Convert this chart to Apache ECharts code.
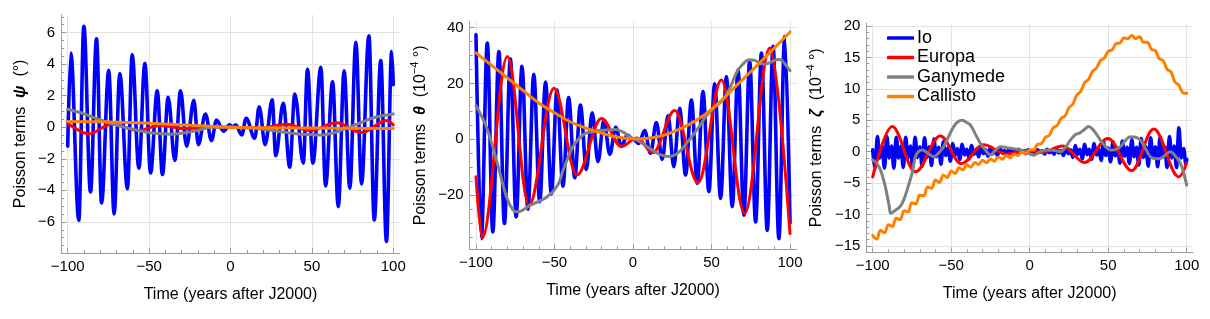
<!DOCTYPE html>
<html><head><meta charset="utf-8">
<script src="https://cdn.jsdelivr.net/npm/echarts@6/dist/echarts.min.js"></script>
<style>html,body{margin:0;padding:0;background:#fff}#c{width:1210px;height:319px}</style>
</head><body><div id="c"></div>
<script>
// ---------------- data ----------------
const seriesNames = ['Io', 'Europa', 'Ganymede', 'Callisto'];
const xTitle = 'Time (years after J2000)';
const xMajor = [-100, -50, 0, 50, 100];
const xMinor = [-90, -80, -70, -60, -40, -30, -20, -10, 10, 20, 30, 40, 60, 70, 80, 90];
const xGrid = [-50, 0, 50];

const psiMajor = [-6, -4, -2, 0, 2, 4, 6];
const psiMinor = [-7.5, -7, -6.5, -5.5, -5, -4.5, -3.5, -3, -2.5, -1.5, -1, -0.5, 0.5, 1, 1.5, 2.5, 3, 3.5, 4.5, 5, 5.5, 6.5, 7];
const thetaMajor = [-20, 0, 20, 40];
const thetaMinor = [-35, -30, -25, -15, -10, -5, 5, 10, 15, 25, 30, 35];
const zetaMajor = [-15, -10, -5, 0, 5, 10, 15, 20];
const zetaMinor = [-16, -14, -13, -12, -11, -9, -8, -7, -6, -4, -3, -2, -1, 1, 2, 3, 4, 6, 7, 8, 9, 11, 12, 13, 14, 16, 17, 18, 19];

// Panel 1: psi (degrees)
const psiIo = [[-100,-1.2],[-98.1,4.7],[-93.2,-5.9],[-90.1,6.4],[-86.0,-4.1],[-82.3,5.6],[-79.2,-4.8],[-74.8,3.6],[-71.5,-5.5],[-68.0,3.4],[-63.3,-3.9],[-60.4,4.6],[-56.3,-2.6],[-52.6,4.05],[-49.1,-2.9],[-45.0,2.3],[-41.8,-3.0],[-38.3,1.9],[-34.2,-2.1],[-30.7,2.3],[-27.0,-1.2],[-22.5,1.7],[-19.8,-1.1],[-15.4,0.84],[-11.7,-0.85],[-8.6,0.46],[-4.3,-0.25],[-0.6,0.15],[1.4,0.02],[3.2,0.15],[6.9,-0.49],[9.6,0.57],[14.9,-0.7],[17.6,1.3],[21.3,-1.1],[25.6,1.73],[27.8,-1.8],[32.4,1.52],[36.4,-2.53],[39.5,2.1],[44.7,-2.28],[47.3,3.67],[50.6,-2.28],[55.5,3.8],[58.4,-3.72],[62.7,2.89],[66.2,-5.03],[69.8,3.58],[73.3,-3.86],[77.0,5.38],[80.5,-3.59],[85.0,5.8],[88.3,-5.87],[92.3,4.22],[95.8,-7.24],[99.0,4.79],[100,2.7]];
const psiEuropa = [[-100,0.25],[-87,-0.42],[-73,0.21],[-57,-0.21],[-43,0.13],[-28,-0.1],[-14,0.04],[0,0],[18,-0.05],[34.4,0.19],[48.7,-0.21],[65.1,0.29],[80.5,-0.34],[95.8,0.42],[100,0.15]];
const psiGanymede = [[-100,1.14],[-90,0.85],[-83,0.57],[-75,0.3],[-63,-0.06],[-52,-0.3],[-42,-0.42],[-37,-0.44],[-30,-0.38],[-20,-0.2],[-12,0],[0,0.02],[8,-0.02],[15,-0.06],[25,-0.2],[35,-0.34],[45,-0.45],[56,-0.49],[65,-0.3],[76,0.12],[88,0.6],[100,0.84]];
const psiCallisto = [[-100,0.36],[-75,0.33],[-50,0.25],[-25,0.13],[0,0.0],[25,-0.04],[50,-0.05],[75,-0.07],[100,-0.08]];

// Panel 2: theta (1e-4 degrees)
const thetaIo = [[-100,37.5],[-96.6,-35.6],[-92.8,34.5],[-89.3,-33.2],[-85.4,31.5],[-81.9,-30.2],[-78.1,28.8],[-74.4,-27.8],[-70.7,26.2],[-66.9,-25.1],[-63.2,23.3],[-59.4,-22.4],[-55.7,20.5],[-52,-19.6],[-48.4,17.7],[-44.6,-16.8],[-41,15.0],[-37.1,-13.8],[-33.5,12.3],[-29.7,-10.8],[-26,9.5],[-22.3,-8.0],[-18.5,6.9],[-14.8,-5.4],[-11,4.3],[-7.4,-2.6],[-3.7,1.5],[0,0],[3.7,-1.5],[7.4,3.1],[11.1,-5.0],[14.9,6.0],[18.6,-7.2],[22.3,8.4],[26,-9.8],[29.7,11.1],[33.5,-12.8],[37.2,14.1],[40.9,-15.8],[44.6,17.1],[48.3,-18.8],[52,19.9],[55.8,-21.2],[59.5,22.5],[63.2,-24.2],[66.9,24.9],[70.6,-27.2],[74.3,27.9],[78.1,-29.6],[81.8,30.9],[85.5,-32.6],[89.2,33.3],[92.9,-35.6],[96.6,36.8],[100,-30]];
const thetaEuropa = [[-100,-13.4],[-96,-35.4],[-80,29.7],[-66.2,-23.6],[-50.3,18.3],[-35.7,-12.8],[-20.1,7.5],[-7.4,-2.6],[2.5,0.5],[12.7,-4.8],[26.6,10.3],[41.4,-15.6],[56.3,21.3],[71.1,-26.6],[87.1,32.7],[100,-33.8]];
const thetaGanymede = [[-100,12],[-93.4,4.5],[-87,-7.4],[-80.6,-20.6],[-76.4,-25.4],[-73.5,-26],[-65,-23.5],[-55,-20.8],[-48,-16.5],[-44.5,-11],[-41,-6],[-38,-2.4],[-34,0.5],[-30,2.2],[-24,3],[-17,3.3],[-11,3.5],[-6,2.5],[-2,0.8],[4.3,-0.9],[12.7,-4],[17,-5.4],[22,-6.2],[26,-5.8],[30,-4.2],[34,-1.5],[38.2,1.5],[42,4.5],[46.8,8.5],[52,11.5],[57.3,14.1],[60,16.5],[63,20],[66,24],[70,27],[74,28.5],[78,28.2],[82,27],[86,27.2],[89,28],[92.4,28.6],[95,28.2],[97.5,26.5],[100,24.6]];
const thetaCallisto = [[-100,31],[-90,26.5],[-80,22],[-70,17.5],[-60,13],[-50,9.5],[-40,6.3],[-30,4],[-20,2.2],[-10,0.8],[0,0.2],[10,0.4],[20,1.5],[30,3.7],[40,6.7],[50,10.7],[60,16],[70,21.5],[80,27],[90,32.7],[100,38.5]];

// Panel 3: zeta (1e-4 degrees)
const zetaIo = [[-100,0.3],[-98.5,-2.6],[-97,2.4],[-95.5,-1.0],[-94,0.9],[-92.5,-2.6],[-91,2.4],[-89.5,-1.0],[-88,0.9],[-86.5,-2.6],[-85,2.3],[-83.5,-1.0],[-82,0.9],[-80.5,-2.5],[-79,2.3],[-77.5,-1.0],[-76,0.9],[-74.5,-2.5],[-73,2.3],[-71.5,-0.9],[-70,0.8],[-68.5,-2.3],[-67,2.2],[-65.5,-0.9],[-64,0.8],[-62.5,-2.2],[-61,2.0],[-59.5,-0.8],[-58,0.7],[-56.5,-2.0],[-55,1.6],[-53.5,-0.6],[-52,0.6],[-50.5,-1.5],[-49,1.3],[-47.5,-0.5],[-46,0.5],[-44.5,-1.2],[-43,1.2],[-41.5,-0.5],[-40,0.4],[-38.5,-1.1],[-37,1.0],[-35.5,-0.4],[-34,0.4],[-32.5,-0.8],[-31,0.8],[-29.5,-0.3],[-28,0.3],[-26.5,-0.7],[-25,0.7],[-23.5,-0.3],[-22,0.3],[-20.5,-0.6],[-19,0.6],[-17.5,-0.2],[-16,0.2],[-14.5,-0.5],[-13,0.5],[-11.5,-0.15],[-10,0.15],[-8.5,-0.4],[-7,0.4],[-5.5,-0.1],[-4,0.1],[-2.5,-0.3],[-1,0.3],[0.5,-0.1],[2,0.1],[3.5,-0.3],[5,0.3],[6.5,-0.1],[8,0.15],[9.5,-0.35],[11,0.4],[12.5,-0.15],[14,0.15],[15.5,-0.4],[17,0.5],[18.5,-0.2],[20,0.2],[21.5,-0.6],[23,0.8],[24.5,-0.3],[26,0.3],[27.5,-0.9],[29,1.0],[30.5,-0.4],[32,0.4],[33.5,-1.1],[35,1.2],[36.5,-0.45],[38,0.4],[39.5,-1.2],[41,1.3],[42.5,-0.5],[44,0.5],[45.5,-1.4],[47,1.5],[48.5,-0.6],[50,0.6],[51.5,-1.6],[53,1.6],[54.5,-0.65],[56,0.6],[57.5,-1.8],[59,1.7],[60.5,-0.7],[62,0.7],[63.5,-1.9],[65,1.9],[66.5,-0.8],[68,0.7],[69.5,-2.1],[71,2.1],[72.5,-0.9],[74,0.8],[75.5,-2.3],[77,2.2],[78.5,-0.9],[80,0.8],[81.5,-2.4],[83,2.3],[84.5,-0.9],[86,0.8],[87.5,-2.5],[89,2.4],[90.5,-1.0],[92,0.9],[93.5,-2.5],[95,3.8],[96.5,-1.0],[98,0.5],[99.5,-2.0],[100,-1.2]];
const zetaEuropa = [[-100,-4.0],[-87.6,4.0],[-72.8,-3.2],[-56.9,2.5],[-43.5,-1.9],[-29.5,1.1],[-14.4,-0.4],[-3,0.2],[8,-0.05],[21,0.9],[35,-1.7],[49.8,2.1],[65,-3.0],[79,3.6],[95,-4.0],[100,-1.8]];
const zetaGanymede = [[-100,-1.3],[-97.5,-1.8],[-95,-2.9],[-92,-5.5],[-89.5,-8.6],[-88.5,-9.8],[-85.5,-9.3],[-82.4,-8.7],[-80,-7.5],[-78.1,-6.1],[-75,-3.5],[-72.8,-0.8],[-70.5,0.1],[-68.5,0.27],[-65,-0.2],[-61.1,-0.8],[-58,-0.2],[-54.8,0.8],[-51.5,2.5],[-48.4,4.0],[-45.5,4.8],[-43.1,5.0],[-40.5,4.7],[-37.8,4.25],[-35,3.0],[-31.4,1.33],[-28,0.2],[-25,-0.53],[-22,0.2],[-18.7,0.8],[-12.3,0.55],[-5.9,0.27],[-1,-0.2],[2.5,-0.55],[6,-0.1],[11,0.27],[15,0.25],[19.6,0.0],[23,0.8],[25.9,1.86],[29,2.7],[32,3.0],[34.4,3.45],[37.6,4.0],[40,3.6],[42.5,2.8],[45,1.86],[48,0.9],[51.4,0.27],[54.5,0.3],[57.8,0.8],[61,1.8],[64.1,2.4],[67.5,2.3],[70.5,1.86],[73.5,0.6],[76.9,-0.8],[80,-1.1],[83.2,-1.06],[86.5,-0.5],[89.6,0.0],[92.5,-0.6],[96,-1.86],[98.2,-3.5],[100,-5.3]];
const zetaCallisto = [[-100,-13.3],[-97.5,-13.9],[-95,-12.5],[-92.5,-12.9],[-90,-11.6],[-87.5,-11.9],[-85,-10.6],[-82.5,-10.8],[-80,-9.4],[-77.5,-9.6],[-75,-8.1],[-72.5,-8.3],[-70,-6.9],[-67.5,-7.0],[-65,-5.6],[-62.5,-5.8],[-60,-4.5],[-57.5,-4.9],[-55,-3.7],[-52.5,-4.1],[-50,-3.05],[-47.5,-3.45],[-45,-2.55],[-42.5,-2.9],[-40,-2.05],[-37.5,-2.45],[-35,-1.7],[-32.5,-2.05],[-30,-1.35],[-27.5,-1.75],[-25,-1.15],[-22.5,-1.5],[-20,-0.85],[-17.5,-1.2],[-15,-0.6],[-12.5,-0.95],[-10,-0.35],[-7.5,-0.6],[-5,-0.1],[-2.5,-0.3],[0,0.3],[2.5,0.3],[5,1.2],[7.5,1.3],[10,2.3],[12.5,2.6],[15,3.8],[17.5,4.2],[20,5.3],[22.5,5.7],[25,7.0],[27.5,7.6],[30,9.0],[32.5,9.6],[35,11.0],[37.5,11.5],[40,12.8],[42.5,13.3],[45,14.5],[47.5,14.9],[50,16.0],[52.5,16.2],[55,17.2],[57.5,17.3],[60,18.1],[62.5,18.0],[65,18.5],[67.5,18.0],[70,18.3],[72.5,17.4],[75,17.4],[77.5,16.3],[80,16.1],[82.5,14.8],[85,14.5],[87.5,13.1],[90,12.7],[92.5,11.1],[95,10.6],[97.5,9.4],[100,9.3]];

// ---------------- layout & style ----------------
const FONT = '"Liberation Sans", Arial, Helvetica, sans-serif';
const AXC = '#9a9a9a', GRIDC = '#e3e3e3';
const colors = ['#0000ff', '#ff0000', '#808080', '#ff8000'];
const widths = [3.6, 3.0, 3.0, 3.0];
const nameRich = {
  n: {fontSize: 16, fontFamily: FONT, color: '#000', lineHeight: 22},
  s: {fontSize: 16, fontFamily: FONT, color: '#000', fontWeight: 'bold', fontStyle: 'italic', lineHeight: 22},
  sup: {fontSize: 11, fontFamily: FONT, color: '#000', lineHeight: 12, verticalAlign: 'top'}
};
const panels = [
  {left: 61.2, top: 14.7, width: 338.6, height: 238.3, yMin: -7.97, yMax: 7.13,
   yMajor: psiMajor, yMinor: psiMinor, yGap: 30,
   yName: '{n|Poisson terms  }{s|ψ}{n|  (°)}',
   data: [psiIo, psiEuropa, psiGanymede, psiCallisto], mono: [true, true, false, false], xGap: 34},
  {left: 469.7, top: 21.6, width: 326.6, height: 227.6, yMin: -39.4, yMax: 42.2,
   yMajor: thetaMajor, yMinor: thetaMinor, yGap: 38,
   yName: '{n|Poisson terms  }{s|θ}{n|  (10}{sup|−4}{n| °)}',
   data: [thetaIo, thetaEuropa, thetaGanymede, thetaCallisto], mono: [true, true, false, false], xGap: 33},
  {left: 866.4, top: 23.2, width: 326.6, height: 229.1, yMin: -16.0, yMax: 20.45,
   yMajor: zetaMajor, yMinor: zetaMinor, yGap: 39,
   yName: '{n|Poisson terms  }{s|ζ}{n|  (10}{sup|−4}{n| °)}',
   data: [zetaIo, zetaEuropa, zetaGanymede, zetaCallisto], mono: [true, true, false, false], xGap: 33}
];
const fmt = v => String(v).replace('-', '−');

const option = {
  animation: false, backgroundColor: '#fff',
  grid: [], xAxis: [], yAxis: [], series: [],
  legend: {
    data: seriesNames, orient: 'vertical', left: 882, top: 24, padding: 5,
    icon: 'roundRect', itemWidth: 27, itemHeight: 3.5, itemGap: 1.5,
    textStyle: {fontSize: 18, fontFamily: FONT, color: '#000', padding: [0, 0, 0, -2]},
    selectedMode: false
  }
};

panels.forEach((p, i) => {
  option.grid.push({left: p.left, top: p.top, width: p.width, height: p.height});
  option.xAxis.push({
    type: 'value', gridIndex: i, min: -104, max: 104, position: 'bottom',
    name: xTitle, nameLocation: 'middle', nameGap: p.xGap,
    nameTextStyle: {fontSize: 16, fontFamily: FONT, color: '#000'},
    axisLine: {show: true, onZero: false, lineStyle: {color: AXC, width: 1}},
    axisTick: {show: true, inside: true, length: 5, customValues: xMajor, lineStyle: {color: AXC}},
    axisLabel: {show: true, customValues: xMajor, formatter: fmt, fontSize: 15, fontFamily: FONT, color: '#000', margin: 6},
    splitLine: {show: true, customValues: xGrid, lineStyle: {color: GRIDC, width: 1}},
    minorTick: {show: false}
  }, {
    type: 'value', gridIndex: i, min: -104, max: 104, position: 'bottom',
    axisLine: {show: false, onZero: false},
    axisTick: {show: true, inside: true, length: 3, customValues: xMinor, lineStyle: {color: AXC}},
    axisLabel: {show: false}, splitLine: {show: false}
  });
  option.yAxis.push({
    type: 'value', gridIndex: i, min: p.yMin, max: p.yMax, position: 'left',
    name: p.yName, nameLocation: 'middle', nameRotate: 90, nameGap: p.yGap,
    nameTextStyle: {rich: nameRich, fontSize: 16, fontFamily: FONT, color: '#000'},
    axisLine: {show: true, onZero: false, lineStyle: {color: AXC, width: 1}},
    axisTick: {show: true, inside: true, length: 5, customValues: p.yMajor, lineStyle: {color: AXC}},
    axisLabel: {show: true, customValues: p.yMajor, formatter: fmt, fontSize: 15, fontFamily: FONT, color: '#000', margin: 6},
    splitLine: {show: true, customValues: p.yMajor, lineStyle: {color: GRIDC, width: 1}}
  }, {
    type: 'value', gridIndex: i, min: p.yMin, max: p.yMax, position: 'left',
    axisLine: {show: false, onZero: false},
    axisTick: {show: true, inside: true, length: 3, customValues: p.yMinor, lineStyle: {color: AXC}},
    axisLabel: {show: false}, splitLine: {show: false}
  });
  p.data.forEach((d, k) => {
    const s = {
      type: 'line', name: seriesNames[k], xAxisIndex: 2 * i, yAxisIndex: 2 * i,
      data: d, showSymbol: false, symbol: 'none', smooth: 0.36,
      lineStyle: {color: colors[k], width: widths[k], cap: 'round', join: 'round'},
      itemStyle: {color: colors[k]}, z: 2 + k, silent: true
    };
    if (p.mono[k]) s.smoothMonotone = 'x';
    option.series.push(s);
  });
});

const chart = echarts.init(document.getElementById('c'), null, {renderer: 'canvas'});
chart.setOption(option);
</script></body></html>
